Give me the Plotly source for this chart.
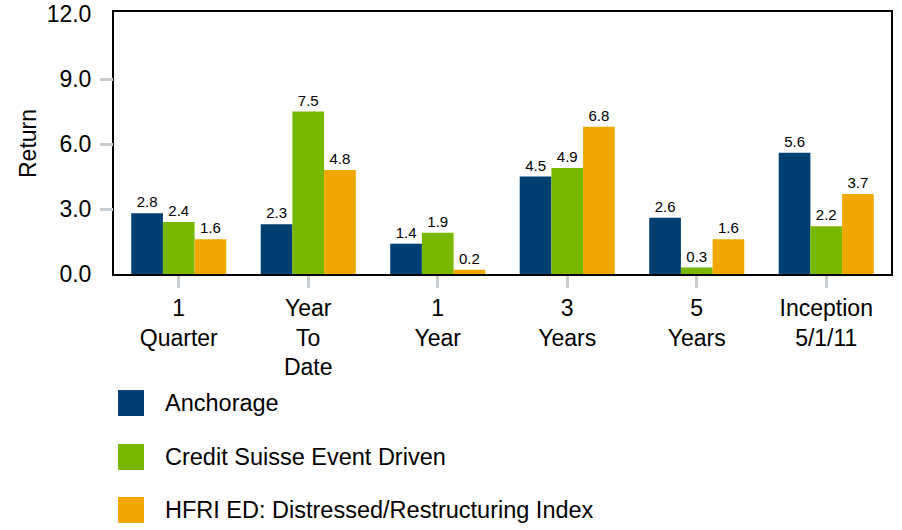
import plotly.graph_objects as go

categories = ["1<br>Quarter", "Year<br>To<br>Date", "1<br>Year", "3<br>Years", "5<br>Years", "Inception<br>5/1/11"]
anchorage = [2.8, 2.3, 1.4, 4.5, 2.6, 5.6]
credit_suisse = [2.4, 7.5, 1.9, 4.9, 0.3, 2.2]
hfri = [1.6, 4.8, 0.2, 6.8, 1.6, 3.7]
series_names = ["Anchorage", "Credit Suisse Event Driven", "HFRI ED: Distressed/Restructuring Index"]
colors = ["#003f72", "#78b800", "#f0a800"]
y_ticks = [0, 3, 6, 9, 12]
y_ticktext = ["0.0", "3.0", "6.0", "9.0", "12.0"]

FONT = "Arial, Liberation Sans, sans-serif"

fig = go.Figure()
for name, vals, col in zip(series_names, [anchorage, credit_suisse, hfri], colors):
    fig.add_trace(go.Bar(
        x=categories, y=vals, name=name, marker=dict(color=col, line=dict(width=0)),
        text=[f"{v:.1f}" for v in vals], textposition="outside",
        textfont=dict(size=15, color="#000000", family=FONT),
        cliponaxis=False, showlegend=False, constraintext="none",
    ))

# invisible helper trace on overlay axis carrying the visible grey y ticks
fig.add_trace(go.Scatter(x=[categories[0]], y=[0], yaxis="y2", mode="markers",
                         marker=dict(opacity=0), showlegend=False, hoverinfo="skip"))

fig.update_layout(
    width=902, height=530,
    margin=dict(l=114, r=11, t=12, b=256, autoexpand=False),
    paper_bgcolor="white", plot_bgcolor="white",
    barmode="group", bargap=0.266, bargroupgap=0,
    font=dict(family=FONT, size=23, color="#000000"),
    xaxis=dict(
        showline=True, linecolor="#000000", linewidth=2, mirror=True,
        ticks="outside", ticklen=12, tickwidth=3, tickcolor="#c8cdd2",
        tickfont=dict(size=23), showgrid=False, automargin=False,
    ),
    yaxis=dict(
        range=[0, 12.1], tickvals=y_ticks, ticktext=y_ticktext,
        showline=True, linecolor="#000000", linewidth=2, mirror=True,
        ticks="outside", ticklen=16, tickcolor="rgba(0,0,0,0)",
        tickfont=dict(size=23), showgrid=False, zeroline=False, automargin=False,
        ticklabeloverflow="allow",
    ),
    yaxis2=dict(
        range=[0, 12.1], overlaying="y", side="left", tickvals=[3, 6, 9],
        ticks="outside", ticklen=13, tickwidth=3, tickcolor="#c8cdd2",
        showticklabels=False, showgrid=False, zeroline=False, showline=False,
        automargin=False,
    ),
)

fig.add_annotation(xref="paper", yref="paper", x=-0.1107, y=0.5, text="Return",
                   textangle=-90, showarrow=False, xanchor="center", yanchor="middle",
                   font=dict(size=23, color="#000000", family=FONT))

# manual legend
leg_y = [(-0.542, -0.443), (-0.748, -0.649), (-0.950, -0.851)]
for (y0, y1), name, col in zip(leg_y, series_names, colors):
    fig.add_shape(type="rect", xref="paper", yref="paper", x0=0.00515, x1=0.0386,
                  y0=y0, y1=y1, fillcolor=col, line=dict(width=0))
    fig.add_annotation(xref="paper", yref="paper", x=0.063, y=(y0 + y1) / 2,
                       text=name, showarrow=False, xanchor="left", yanchor="middle",
                       font=dict(size=23.5, color="#000000", family=FONT))

# remove the browser's default 8px body margin so the figure fills the window
fig.write_html("out.html", config={"displayModeBar": False},
               post_script="document.body.style.margin='0';document.body.style.overflow='hidden';")
